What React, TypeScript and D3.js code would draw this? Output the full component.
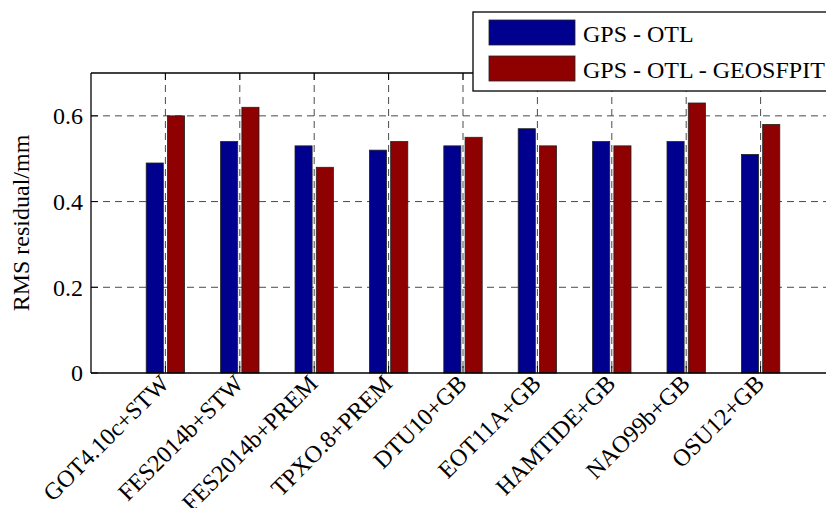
import React from "react";
import * as d3 from "d3";

// Tide models compared
const categories = [
  "GOT4.10c+STW",
  "FES2014b+STW",
  "FES2014b+PREM",
  "TPXO.8+PREM",
  "DTU10+GB",
  "EOT11A+GB",
  "HAMTIDE+GB",
  "NAO99b+GB",
  "OSU12+GB",
];

// RMS residuals (mm)
const gpsOtl = [0.49, 0.54, 0.53, 0.52, 0.53, 0.57, 0.54, 0.54, 0.51];
const gpsOtlGeos = [0.6, 0.62, 0.48, 0.54, 0.55, 0.53, 0.53, 0.63, 0.58];

const yTicks = [0, 0.2, 0.4, 0.6];
const yTickLabels = ["0", "0.2", "0.4", "0.6"];

const seriesNames = ["GPS - OTL", "GPS - OTL - GEOSFPIT"];
const seriesColors = ["#00008F", "#8F0000"];

const W = 826;
const H = 508;
const FONT = "'Liberation Serif', 'Times New Roman', serif";

export default function App() {
  const left = 91;
  const top = 73;
  const bottom = 373;
  const right = 835;

  const x = d3.scaleLinear().domain([0, categories.length + 1]).range([left, right]);
  const y = d3.scaleLinear().domain([0, 0.7]).range([bottom, top]);

  const barW = 0.23;
  const offset = 0.143;
  const series = [gpsOtl, gpsOtlGeos];
  const dash = "7,5";
  const gridColor = "#4a4a4a";

  return (
    <svg
      width={W}
      height={H}
      style={{ position: "absolute", left: 0, top: 0, background: "#fff" }}
      fontFamily={FONT}
    >
      <rect x={0} y={0} width={W} height={H} fill="#fff" />

      {/* grid */}
      {yTicks.slice(1).map((t) => (
        <line
          key={"gy" + t}
          x1={left}
          x2={right}
          y1={y(t)}
          y2={y(t)}
          stroke={gridColor}
          strokeDasharray={dash}
          strokeWidth={1}
        />
      ))}
      {categories.map((c, i) => (
        <line
          key={"gx" + c}
          x1={x(i + 1)}
          x2={x(i + 1)}
          y1={top}
          y2={bottom}
          stroke={gridColor}
          strokeDasharray={dash}
          strokeWidth={1}
        />
      ))}

      {/* bars */}
      {series.map((vals, s) =>
        vals.map((v, i) => {
          const cx = i + 1 + (s === 0 ? -offset : offset);
          const x0 = x(cx - barW / 2);
          const x1 = x(cx + barW / 2);
          return (
            <rect
              key={`b${s}-${i}`}
              x={x0}
              y={y(v)}
              width={x1 - x0}
              height={y(0) - y(v)}
              fill={seriesColors[s]}
              stroke="#222"
              strokeWidth={0.8}
            />
          );
        })
      )}

      {/* axes box */}
      <line x1={left} x2={right} y1={bottom} y2={bottom} stroke="#000" strokeWidth={1.3} />
      <line x1={left} x2={right} y1={top} y2={top} stroke="#000" strokeWidth={1.3} />
      <line x1={left} x2={left} y1={top} y2={bottom} stroke="#000" strokeWidth={1.3} />
      <line x1={right} x2={right} y1={top} y2={bottom} stroke="#000" strokeWidth={1.3} />

      {/* ticks */}
      {yTicks.map((t) => (
        <g key={"ty" + t}>
          <line x1={left} x2={left + 7} y1={y(t)} y2={y(t)} stroke="#000" />
          <line x1={right} x2={right - 7} y1={y(t)} y2={y(t)} stroke="#000" />
        </g>
      ))}
      {categories.map((c, i) => (
        <g key={"tx" + c}>
          <line x1={x(i + 1)} x2={x(i + 1)} y1={bottom} y2={bottom - 7} stroke="#000" />
          <line x1={x(i + 1)} x2={x(i + 1)} y1={top} y2={top + 7} stroke="#000" />
        </g>
      ))}

      {/* y tick labels */}
      {yTicks.map((t, i) => (
        <text
          key={"yl" + t}
          x={left - 8}
          y={y(t)}
          dy="0.35em"
          textAnchor="end"
          fontSize={24}
          fill="#000"
        >
          {yTickLabels[i]}
        </text>
      ))}

      {/* y axis title */}
      <text
        transform={`translate(29,${(top + bottom) / 2}) rotate(-90)`}
        textAnchor="middle"
        fontSize={24}
        fill="#000"
      >
        RMS residual/mm
      </text>

      {/* category labels */}
      {categories.map((c, i) => (
        <text
          key={"xl" + c}
          transform={`translate(${x(i + 1) + 5},${bottom + 12}) rotate(-45)`}
          textAnchor="end"
          fontSize={24}
          fill="#000"
        >
          {c}
        </text>
      ))}

      {/* legend */}
      <g>
        <rect x={473} y={12} width={370} height={79} fill="#fff" stroke="#000" strokeWidth={1.3} />
        {seriesNames.map((name, s) => (
          <g key={"lg" + s}>
            <rect
              x={489}
              y={20 + s * 36}
              width={86}
              height={25}
              fill={seriesColors[s]}
              stroke="#222"
              strokeWidth={0.8}
            />
            <text x={583} y={42 + s * 36} fontSize={24} fill="#000">
              {name}
            </text>
          </g>
        ))}
      </g>
    </svg>
  );
}
